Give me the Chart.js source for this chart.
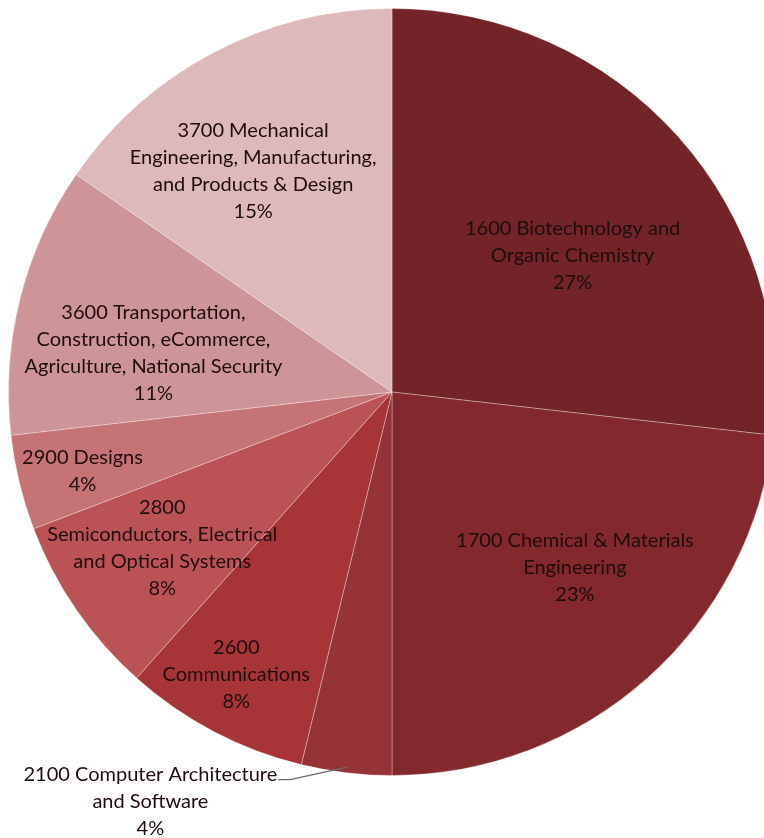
<!DOCTYPE html>
<html>
<head>
<meta charset="utf-8">
<script src="https://cdn.jsdelivr.net/npm/chart.js@4.4.1/dist/chart.umd.min.js"></script>
<style>
  html, body { margin: 0; padding: 0; background: #fff; overflow: hidden; }
  #wrap { position: relative; width: 784px; height: 838px; }
</style>
</head>
<body>
<div id="wrap"><canvas id="pizza"></canvas></div>
<script>
// dados da pizza (ordem horária a partir do topo)
const categorias = [
  "1600 Biotechnology and Organic Chemistry",
  "1700 Chemical & Materials Engineering",
  "2100 Computer Architecture and Software",
  "2600 Communications",
  "2800 Semiconductors, Electrical and Optical Systems",
  "2900 Designs",
  "3600 Transportation, Construction, eCommerce, Agriculture, National Security",
  "3700 Mechanical Engineering, Manufacturing, and Products & Design"
];
// fatias (em %)
const percentuais = [26.8, 23.2, 3.8, 7.8, 7.6, 4.0, 11.4, 15.4];

// linhas de texto de cada rótulo
const rotulos = [
  ["1600 Biotechnology and", "Organic Chemistry"],
  ["1700 Chemical & Materials", "Engineering"],
  ["2100 Computer Architecture", "and Software"],
  ["2600", "Communications"],
  ["2800", "Semiconductors, Electrical", "and Optical Systems"],
  ["2900 Designs"],
  ["3600 Transportation,", "Construction, eCommerce,", "Agriculture, National Security"],
  ["3700 Mechanical", "Engineering, Manufacturing,", "and Products & Design"]
];

const cores = ["#732428", "#83292D", "#963336", "#A73538", "#BB5356", "#C67376", "#CD9598", "#DDB9BB"];

// posição do rótulo relativa ao centro, em frações do raio
const posRotulo = [
  [0.471, -0.357], [0.477, 0.458], [-0.630, 1.068], [-0.406, 0.737],
  [-0.599, 0.406], [-0.807, 0.206], [-0.622, -0.102], [-0.362, -0.576]
];

const FONTE = "20px Lato";
const LINHA = 27;

const pluginRotulos = {
  id: "rotulos",
  afterDatasetsDraw(chart) {
    const ctx = chart.ctx;
    const arcos = chart.getDatasetMeta(0).data;
    ctx.save();
    ctx.font = FONTE;
    ctx.fillStyle = "#1f0c0d";
    ctx.textAlign = "center";
    ctx.textBaseline = "middle";
    arcos.forEach((arco, i) => {
      const r = arco.outerRadius;
      const cx = arco.x + posRotulo[i][0] * r;
      const cy = arco.y + posRotulo[i][1] * r;
      const linhas = rotulos[i].concat([Math.round(percentuais[i]) + "%"]);
      const y0 = cy - (linhas.length - 1) * LINHA / 2;
      linhas.forEach((t, k) => ctx.fillText(t, cx, y0 + k * LINHA));

      // linha guia para o rótulo de fora (2100)
      if (i === 2) {
        const meio = (arco.startAngle + arco.endAngle) / 2;
        const px = arco.x + Math.cos(meio) * r * 0.985;
        const py = arco.y + Math.sin(meio) * r * 0.985;
        const larg = ctx.measureText(linhas[0]).width;
        const fx = cx + larg / 2 + 1;
        const fy = y0 + 5;
        ctx.strokeStyle = "#6b6b6b";
        ctx.lineWidth = 1.2;
        ctx.beginPath();
        ctx.moveTo(fx, fy);
        ctx.lineTo(fx + 12, fy);
        ctx.lineTo(px, py);
        ctx.stroke();
      }
    });
    ctx.restore();
  }
};

const ctxPizza = document.getElementById("pizza").getContext("2d");

const graficoPizza = new Chart(ctxPizza, {
  type: "pie",
  data: {
    labels: categorias,
    datasets: [
      {
        data: percentuais,
        backgroundColor: cores,
        borderColor: "rgba(255,255,255,0.3)",
        borderWidth: 1,
      },
    ],
  },
  options: {
    responsive: true,
    maintainAspectRatio: false,
    animation: false,
    layout: { padding: { top: 8, left: 8, right: 8, bottom: 62 } },
    plugins: {
      legend: { display: false },
      tooltip: { enabled: false },
    },
  },
  plugins: [pluginRotulos],
});
</script>
</body>
</html>
